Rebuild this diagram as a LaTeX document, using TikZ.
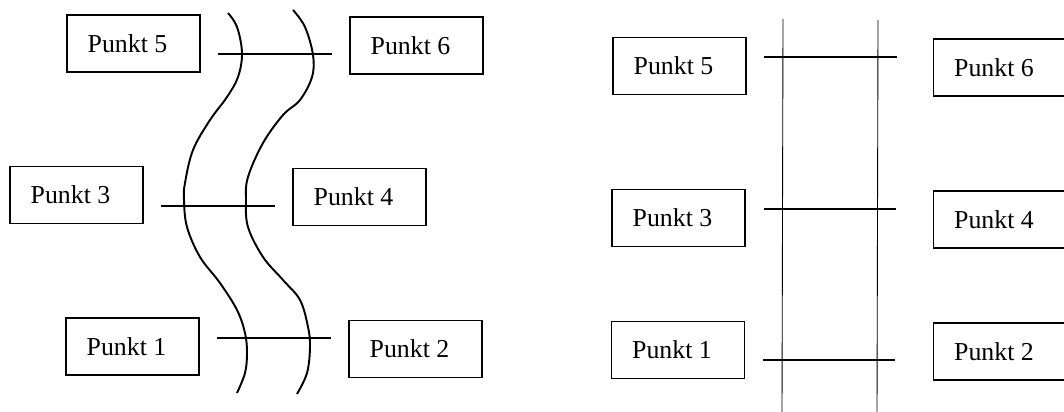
\documentclass[tikz,border=0pt]{standalone}
\usepackage{fontspec}
\setmainfont{Liberation Serif}
\begin{document}
\begin{tikzpicture}[x=0.02cm,y=-0.02cm,line width=1pt,
  punkt/.style={draw,minimum width=2.66cm,minimum height=1.14cm,inner sep=0pt,font=\fontsize{14.7}{18}\selectfont,
    execute at end node={\hspace{.24cm}}}]
\useasboundingbox (0,0) rectangle (1064,412);
\clip (0,0) rectangle (1064,412);
% links: gewundener Fluss
\node[punkt] (a5) at (133.5,43.5) {Punkt 5};
\node[punkt] (a6) at (416.5,45.5) {Punkt 6};
\node[punkt] (a3) at (76.5,195) {Punkt 3};
\node[punkt] (a4) at (359.5,197) {Punkt 4};
\node[punkt] (a1) at (132.5,346.5) {Punkt 1};
\node[punkt] (a2) at (415.5,349) {Punkt 2};
\draw[line width=1.1pt] plot[smooth,tension=.6] coordinates {(228,13) (237,27) (242,53) (238,77) (227,97) (210,120) (193,150) (185,183) (184,200) (187,227) (200,257) (220,283) (237,310) (245,333) (247,353) (245,373) (237,393)};
\draw[line width=1.1pt] plot[smooth,tension=.6] coordinates {(293,10) (305,27) (313,55) (312,77) (300,100) (283,115) (263,143) (248,177) (246,200) (248,227) (263,257) (283,280) (300,300) (308,327) (310,347) (307,373) (297,394)};
\draw (218,54)--(332,54); \draw (161,206)--(275,206); \draw (217,338)--(331,338);
% rechts: gerader Kanal
\node[punkt] (b5) at (679.5,66) {Punkt 5};
\node[punkt] (b6) at (1000,67.5) {Punkt 6};
\node[punkt] (b3) at (678.5,218) {Punkt 3};
\node[punkt] (b4) at (1000,219.5) {Punkt 4};
\node[punkt] (b1) at (678,350) {Punkt 1};
\node[punkt] (b2) at (1000,351.5) {Punkt 2};
\draw[line width=.5pt] (783,19)--(782,412); \draw[line width=.5pt] (878,20)--(877,412);
\draw (764,57)--(897,57); \draw (764,209)--(896,209); \draw (763,360)--(895,360);
\end{tikzpicture}
\end{document}
